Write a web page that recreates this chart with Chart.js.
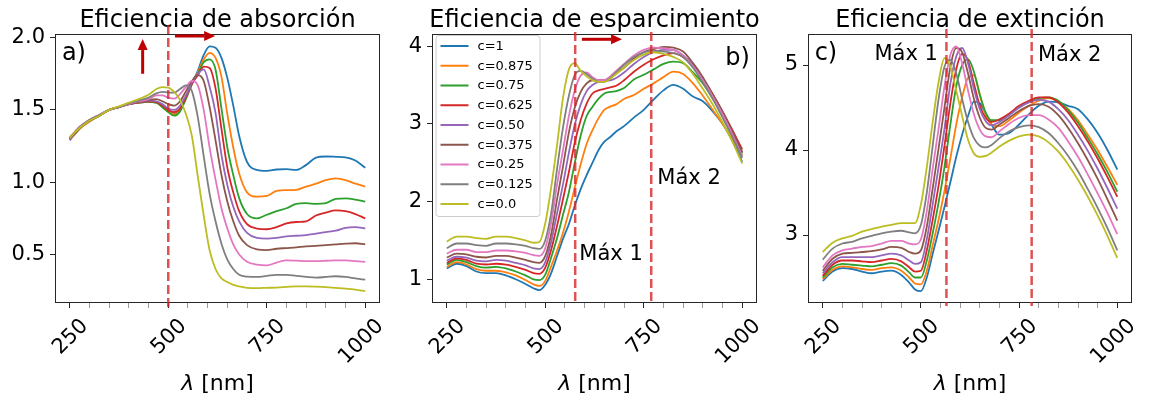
<!DOCTYPE html>
<html>
<head>
<meta charset="utf-8">
<script src="https://cdn.jsdelivr.net/npm/chart.js@4.4.1/dist/chart.umd.min.js"></script>
<style>
  html, body { margin: 0; padding: 0; background: #fff; }
  #wrap { position: relative; width: 1149px; height: 400px; overflow: hidden; }
  .panel { position: absolute; top: 0; height: 400px; }
</style>
</head>
<body>
<div id="wrap">
  <div class="panel" style="left:0;width:395px"><canvas id="cA"></canvas></div>
  <div class="panel" style="left:395px;width:375px"><canvas id="cB"></canvas></div>
  <div class="panel" style="left:770px;width:379px"><canvas id="cC"></canvas></div>
</div>
<script>
/* longitudes de onda compartidas por todas las curvas (nm) */
const WL = [250, 275, 300, 325, 350, 375, 400, 425, 450,
  470, 485, 500, 515, 530, 545, 560, 575, 590, 605, 620, 635, 650, 665, 680,
  700, 725, 750, 775, 800, 825, 850, 875, 900, 925, 950, 975, 1000];

const C_LABELS = ['c=1', 'c=0.875', 'c=0.75', 'c=0.625', 'c=0.50', 'c=0.375', 'c=0.25', 'c=0.125', 'c=0.0'];
const COLORS = ['#1f77b4', '#ff7f0e', '#2ca02c', '#d62728', '#9467bd', '#8c564b', '#e377c2', '#7f7f7f', '#bcbd22'];

const X_TICKS = [250, 300, 350, 400, 450, 500, 550, 600, 650, 700, 750, 800, 850, 900, 950, 1000];
const Y_TICKS_A = [0.5, 1.0, 1.5, 2.0];
const Y_TICKS_B = [1, 2, 3, 4];
const Y_TICKS_C = [3, 4, 5];

/* a) absorción */
const ABS_1    = [1.29,1.37,1.42,1.46,1.50,1.52,1.54,1.55,1.555, 1.55,1.52,1.49,1.475,1.50,1.58,1.68,1.77,1.88,1.94,1.93,1.86,1.72,1.53,1.32, 1.14,1.085,1.078,1.088,1.09,1.085,1.12,1.17,1.178,1.176,1.172,1.15,1.10];
const ABS_0875 = [1.295,1.37,1.42,1.46,1.50,1.52,1.54,1.55,1.555, 1.55,1.52,1.49,1.47,1.50,1.58,1.68,1.76,1.85,1.895,1.86,1.73,1.47,1.24,1.06, 0.93,0.90,0.905,0.94,0.945,0.947,0.97,0.99,1.015,1.027,1.015,0.99,0.97];
const ABS_075  = [1.30,1.375,1.425,1.46,1.50,1.52,1.54,1.55,1.555, 1.55,1.52,1.485,1.46,1.49,1.58,1.68,1.75,1.83,1.85,1.78,1.51,1.24,1.05,0.89, 0.78,0.75,0.775,0.80,0.82,0.85,0.855,0.85,0.855,0.885,0.888,0.88,0.866];
const ABS_0625 = [1.30,1.375,1.425,1.46,1.50,1.52,1.54,1.552,1.56, 1.555,1.53,1.50,1.485,1.51,1.59,1.68,1.74,1.80,1.79,1.65,1.37,1.10,0.93,0.80, 0.71,0.68,0.675,0.69,0.715,0.725,0.73,0.77,0.79,0.805,0.80,0.78,0.75];
const ABS_050  = [1.30,1.38,1.43,1.465,1.50,1.52,1.54,1.555,1.565, 1.56,1.54,1.51,1.50,1.53,1.60,1.69,1.75,1.78,1.66,1.48,1.19,0.98,0.83,0.73, 0.65,0.615,0.61,0.615,0.625,0.63,0.635,0.645,0.655,0.665,0.685,0.69,0.68];
const ABS_0375 = [1.305,1.38,1.43,1.465,1.50,1.52,1.54,1.558,1.57, 1.575,1.56,1.54,1.53,1.56,1.63,1.70,1.74,1.70,1.52,1.29,1.05,0.865,0.73,0.63, 0.565,0.535,0.53,0.54,0.545,0.55,0.557,0.56,0.565,0.57,0.575,0.578,0.57];
const ABS_025  = [1.305,1.385,1.43,1.465,1.50,1.52,1.542,1.56,1.575, 1.60,1.60,1.585,1.578,1.61,1.66,1.70,1.67,1.50,1.24,1.02,0.82,0.68,0.57,0.50, 0.45,0.43,0.425,0.445,0.46,0.458,0.455,0.455,0.457,0.46,0.46,0.455,0.449];
const ABS_0125 = [1.31,1.38,1.43,1.465,1.50,1.52,1.545,1.565,1.585, 1.615,1.625,1.62,1.62,1.645,1.67,1.63,1.45,1.18,0.92,0.73,0.575,0.465,0.40,0.36, 0.347,0.345,0.352,0.36,0.36,0.352,0.345,0.34,0.345,0.35,0.345,0.335,0.326];
const ABS_00   = [1.31,1.375,1.425,1.46,1.50,1.525,1.55,1.575,1.605, 1.645,1.658,1.655,1.625,1.57,1.47,1.32,1.04,0.77,0.53,0.40,0.335,0.31,0.29,0.28, 0.27,0.268,0.27,0.272,0.276,0.28,0.28,0.278,0.275,0.27,0.265,0.258,0.247];

/* b) esparcimiento */
const SCA_1    = [1.14,1.20,1.17,1.10,1.08,1.08,1.05,1.00,0.94, 0.885,0.86,0.93,1.08,1.30,1.52,1.71,1.95,2.16,2.34,2.50,2.66,2.77,2.83,2.90, 2.97,3.08,3.18,3.31,3.43,3.50,3.45,3.35,3.29,3.16,3.00,2.78,2.51];
const SCA_0875 = [1.16,1.22,1.19,1.13,1.11,1.11,1.09,1.05,0.99, 0.935,0.915,0.98,1.17,1.37,1.60,1.87,2.18,2.48,2.74,2.92,3.07,3.18,3.22,3.25, 3.32,3.37,3.45,3.52,3.60,3.67,3.64,3.52,3.36,3.18,3.00,2.80,2.60];
const SCA_075  = [1.19,1.25,1.22,1.17,1.15,1.16,1.14,1.10,1.05, 1.00,0.99,1.06,1.28,1.53,1.83,2.12,2.50,2.85,3.10,3.22,3.32,3.39,3.41,3.42, 3.46,3.57,3.63,3.70,3.77,3.80,3.78,3.66,3.52,3.33,3.12,2.88,2.62];
const SCA_0625 = [1.21,1.27,1.25,1.20,1.19,1.20,1.19,1.16,1.12, 1.08,1.07,1.15,1.38,1.69,2.03,2.38,2.76,3.05,3.26,3.39,3.43,3.45,3.47,3.49, 3.56,3.67,3.76,3.83,3.88,3.91,3.86,3.76,3.58,3.38,3.16,2.92,2.67];
const SCA_050  = [1.24,1.29,1.28,1.24,1.23,1.25,1.24,1.21,1.18, 1.14,1.13,1.22,1.48,1.85,2.22,2.63,2.99,3.25,3.42,3.50,3.54,3.55,3.56,3.59, 3.66,3.77,3.86,3.92,3.95,3.95,3.88,3.76,3.58,3.37,3.15,2.90,2.63];
const SCA_0375 = [1.28,1.33,1.32,1.29,1.28,1.30,1.30,1.28,1.25, 1.22,1.21,1.30,1.58,2.03,2.45,2.89,3.21,3.41,3.52,3.56,3.56,3.56,3.60,3.65, 3.72,3.84,3.92,3.96,3.99,3.98,3.93,3.78,3.60,3.38,3.15,2.90,2.64];
const SCA_025  = [1.33,1.38,1.38,1.35,1.35,1.37,1.37,1.36,1.34, 1.31,1.30,1.40,1.73,2.22,2.66,3.10,3.43,3.62,3.66,3.60,3.56,3.56,3.61,3.68, 3.77,3.88,3.95,3.98,3.97,3.95,3.88,3.74,3.56,3.35,3.12,2.86,2.58];
const SCA_0125 = [1.40,1.46,1.46,1.44,1.43,1.46,1.46,1.45,1.43, 1.40,1.39,1.50,1.85,2.42,2.95,3.36,3.63,3.68,3.64,3.58,3.54,3.54,3.59,3.66, 3.76,3.86,3.92,3.94,3.93,3.91,3.86,3.72,3.53,3.32,3.08,2.83,2.56];
const SCA_00   = [1.485,1.55,1.55,1.53,1.52,1.55,1.55,1.53,1.50, 1.47,1.48,1.72,2.18,2.73,3.33,3.70,3.78,3.68,3.61,3.56,3.54,3.54,3.58,3.64, 3.72,3.82,3.89,3.92,3.90,3.86,3.79,3.64,3.45,3.25,3.02,2.77,2.49];

/* c) extinción */
const EXT_1    = [2.46,2.57,2.61,2.60,2.57,2.55,2.57,2.58,2.53, 2.44,2.36,2.34,2.50,2.78,3.05,3.33,3.62,3.92,4.18,4.40,4.57,4.55,4.43,4.30, 4.18,4.20,4.30,4.42,4.52,4.57,4.56,4.52,4.48,4.36,4.20,4.00,3.77];
const EXT_0875 = [2.48,2.59,2.63,2.62,2.60,2.59,2.61,2.62,2.58, 2.50,2.43,2.42,2.58,2.88,3.18,3.52,3.90,4.30,4.62,4.85,4.88,4.65,4.42,4.30, 4.28,4.35,4.44,4.52,4.58,4.61,4.57,4.48,4.35,4.18,4.00,3.80,3.59];
const EXT_075  = [2.50,2.62,2.66,2.65,2.64,2.63,2.65,2.67,2.64, 2.56,2.50,2.50,2.70,3.02,3.38,3.80,4.30,4.75,5.00,5.07,4.92,4.65,4.44,4.35, 4.35,4.42,4.50,4.57,4.61,4.62,4.58,4.47,4.32,4.14,3.95,3.74,3.51];
const EXT_0625 = [2.52,2.65,2.70,2.70,2.69,2.68,2.70,2.72,2.69, 2.62,2.57,2.58,2.82,3.18,3.58,4.05,4.55,4.95,5.13,5.05,4.78,4.52,4.38,4.33, 4.36,4.43,4.52,4.58,4.62,4.62,4.56,4.44,4.28,4.10,3.90,3.68,3.45];
const EXT_050  = [2.55,2.68,2.74,2.74,2.74,2.74,2.76,2.78,2.76, 2.70,2.66,2.68,2.95,3.36,3.80,4.25,4.78,5.10,5.20,5.02,4.72,4.48,4.34,4.29, 4.33,4.41,4.50,4.56,4.59,4.57,4.48,4.35,4.18,3.99,3.78,3.55,3.31];
const EXT_0375 = [2.58,2.72,2.78,2.79,2.80,2.81,2.83,2.86,2.85, 2.80,2.78,2.82,3.10,3.55,4.02,4.50,4.98,5.20,5.15,4.90,4.60,4.38,4.26,4.24, 4.30,4.38,4.46,4.52,4.54,4.51,4.41,4.26,4.08,3.88,3.66,3.42,3.17];
const EXT_025  = [2.62,2.76,2.82,2.84,2.86,2.87,2.90,2.93,2.93, 2.90,2.89,2.95,3.28,3.78,4.25,4.75,5.12,5.22,5.02,4.70,4.42,4.24,4.16,4.15, 4.22,4.31,4.38,4.41,4.41,4.36,4.26,4.10,3.92,3.71,3.49,3.26,3.01];
const EXT_0125 = [2.71,2.84,2.90,2.92,2.96,2.99,3.02,3.04,3.05, 3.03,3.02,3.12,3.50,4.05,4.60,4.98,5.06,4.90,4.60,4.33,4.14,4.05,4.03,4.06, 4.14,4.22,4.27,4.29,4.27,4.20,4.08,3.93,3.75,3.54,3.32,3.08,2.82];
const EXT_00   = [2.80,2.91,2.96,2.99,3.04,3.07,3.10,3.12,3.14, 3.14,3.14,3.36,3.80,4.33,4.80,5.08,4.98,4.70,4.40,4.12,3.96,3.92,3.93,3.97, 4.04,4.11,4.16,4.18,4.16,4.09,3.98,3.83,3.65,3.45,3.23,2.99,2.73];

/* líneas de máximos (nm) */
const MAX_A = [500];
const MAX_B = [576, 769];
const MAX_C = [565, 782];

const FONT = "'DejaVu Sans', sans-serif";
Chart.defaults.font.family = FONT;
Chart.defaults.color = '#000';

/* flecha: trazo + punta triangular, en píxeles */
function drawArrow(ctx, x0, y0, x1, y1, w, hl, hw) {
  const ang = Math.atan2(y1 - y0, x1 - x0);
  const bx = x1 - hl * Math.cos(ang), by = y1 - hl * Math.sin(ang);
  ctx.lineWidth = w;
  ctx.beginPath(); ctx.moveTo(x0, y0); ctx.lineTo(bx, by); ctx.stroke();
  ctx.beginPath();
  ctx.moveTo(x1, y1);
  ctx.lineTo(bx + hw / 2 * Math.sin(ang), by - hw / 2 * Math.cos(ang));
  ctx.lineTo(bx - hw / 2 * Math.sin(ang), by + hw / 2 * Math.cos(ang));
  ctx.closePath(); ctx.fill();
}

/* marco, título, etiqueta λ, líneas de máximo, flechas, textos y leyenda */
const decorPlugin = {
  id: 'decor',
  afterDraw(chart, args, o) {
    const { ctx, chartArea: a, scales: { x, y } } = chart;
    ctx.save();

    // marco de los ejes
    ctx.strokeStyle = '#262626';
    ctx.lineWidth = 1;
    ctx.strokeRect(Math.round(a.left) + 0.5, Math.round(a.top) + 0.5, Math.round(a.width) - 1, Math.round(a.height) - 1);

    const cx = (a.left + a.right) / 2;
    ctx.fillStyle = '#000';
    ctx.textBaseline = 'alphabetic';

    // título
    ctx.font = '24px ' + FONT;
    ctx.textAlign = 'center';
    ctx.fillText(o.title, cx, 27);

    // etiqueta eje x: λ en cursiva + " [nm]"
    const fI = 'italic 22px ' + FONT, fR = '22px ' + FONT;
    ctx.font = fI; const w1 = ctx.measureText('λ').width;
    ctx.font = fR; const w2 = ctx.measureText(' [nm]').width;
    ctx.textAlign = 'left';
    ctx.font = fI; ctx.fillText('λ', cx - (w1 + w2) / 2, 390);
    ctx.font = fR; ctx.fillText(' [nm]', cx - (w1 + w2) / 2 + w1, 390);

    // líneas verticales discontinuas
    ctx.strokeStyle = 'rgba(214,39,40,0.8)';
    ctx.lineWidth = 2.5;
    ctx.setLineDash([9, 4]);
    o.vlines.forEach(v => {
      const px = x.getPixelForValue(v);
      ctx.beginPath();
      ctx.moveTo(px, a.top - o.vExt[0]);
      ctx.lineTo(px, a.bottom + o.vExt[1]);
      ctx.stroke();
    });
    ctx.setLineDash([]);

    // flechas
    ctx.strokeStyle = '#c00000';
    ctx.fillStyle = '#c00000';
    (o.arrows || []).forEach(ar => {
      drawArrow(ctx, x.getPixelForValue(ar[0]), y.getPixelForValue(ar[1]),
        x.getPixelForValue(ar[2]), y.getPixelForValue(ar[3]), 3, 11, 10);
    });

    // textos
    ctx.fillStyle = '#000';
    ctx.textAlign = 'left';
    (o.texts || []).forEach(t => {
      ctx.font = t.size + 'px ' + FONT;
      ctx.fillText(t.text, x.getPixelForValue(t.x), y.getPixelForValue(t.y));
    });

    // leyenda dentro del área
    if (o.legend) {
      const L = o.legend;
      const lx = a.left + L.dx, ly = a.top + L.dy;
      ctx.fillStyle = 'rgba(255,255,255,0.8)';
      ctx.strokeStyle = '#cccccc';
      ctx.lineWidth = 1;
      ctx.beginPath();
      ctx.roundRect(lx + 0.5, ly + 0.5, L.w, L.h, 3);
      ctx.fill(); ctx.stroke();
      ctx.font = '13px ' + FONT;
      ctx.textBaseline = 'middle';
      chart.data.datasets.forEach((ds, i) => {
        const ry = ly + 11 + i * L.row;
        ctx.strokeStyle = ds.borderColor;
        ctx.lineWidth = 2;
        ctx.beginPath(); ctx.moveTo(lx + 5, ry); ctx.lineTo(lx + 33, ry); ctx.stroke();
        ctx.fillStyle = '#000';
        ctx.fillText(ds.label, lx + 42, ry + 0.5);
      });
    }
    ctx.restore();
  },
};

function makeDatasets(series) {
  return series.map((vals, i) => ({
    label: C_LABELS[i],
    data: vals.map((v, j) => ({ x: WL[j], y: v })),
    borderColor: COLORS[i],
    borderWidth: 1.8,
    pointRadius: 0,
    fill: false,
    cubicInterpolationMode: 'monotone',
    order: series.length - 1 - i,
  }));
}

function makePanel(id, p) {
  return new Chart(document.getElementById(id), {
    type: 'line',
    plugins: [decorPlugin],
    data: { datasets: makeDatasets(p.series) },
    options: {
      responsive: true,
      maintainAspectRatio: false,
      animation: false,
      devicePixelRatio: 1,
      layout: { autoPadding: false, padding: { top: 34, right: p.padRight, left: 0, bottom: 0 } },
      scales: {
        x: {
          type: 'linear',
          min: 212.5, max: 1037.5,
          afterBuildTicks: s => { s.ticks = X_TICKS.map(v => ({ value: v })); },
          afterFit: s => { s.height = 97; s.paddingLeft = 0; s.paddingRight = 0; },
          ticks: {
            autoSkip: false, minRotation: 45, maxRotation: 45,
            labelOffset: 15, padding: 6,
            font: { size: 21 }, color: '#000',
            callback: v => (v % 250 === 0 ? String(v) : ''),
          },
          grid: {
            drawOnChartArea: false, tickLength: 5,
            tickColor: c => (c.tick && c.tick.value % 250 === 0 ? '#262626' : '#9a9a9a'),
          },
          border: { display: false },
        },
        y: {
          min: p.yMin, max: p.yMax,
          afterBuildTicks: s => { s.ticks = p.yTicks.map(v => ({ value: v })); },
          afterFit: s => { s.width = p.yWidth; s.paddingTop = 0; s.paddingBottom = 0; },
          ticks: { font: { size: 21 }, color: '#000', padding: 5, callback: p.yFmt },
          grid: { drawOnChartArea: false, tickLength: 5, tickColor: '#262626' },
          border: { display: false },
        },
      },
      plugins: {
        legend: { display: false },
        tooltip: { enabled: false },
        decor: p.decor,
      },
    },
  });
}

makePanel('cA', {
  series: [ABS_1, ABS_0875, ABS_075, ABS_0625, ABS_050, ABS_0375, ABS_025, ABS_0125, ABS_00],
  yMin: 0.165, yMax: 2.025, yTicks: Y_TICKS_A, yFmt: v => v.toFixed(1),
  yWidth: 55, padRight: 15,
  decor: {
    title: 'Eficiencia de absorción',
    vlines: MAX_A, vExt: [9, 4],
    arrows: [[435, 1.75, 435, 1.99], [517, 2.011, 619, 2.011]],
    texts: [{ text: 'a)', x: 230, y: 1.845, size: 24 }],
  },
});

makePanel('cB', {
  series: [SCA_1, SCA_0875, SCA_075, SCA_0625, SCA_050, SCA_0375, SCA_025, SCA_0125, SCA_00],
  yMin: 0.695, yMax: 4.155, yTicks: Y_TICKS_B, yFmt: v => String(v),
  yWidth: 37, padRight: 13,
  decor: {
    title: 'Eficiencia de esparcimiento',
    vlines: MAX_B, vExt: [2, 2],
    arrows: [[593, 4.087, 695, 4.087]],
    texts: [
      { text: 'b)', x: 957, y: 3.756, size: 24 },
      { text: 'Máx 1', x: 586.5, y: 1.25, size: 21 },
      { text: 'Máx 2', x: 784.5, y: 2.229, size: 21 },
    ],
    legend: { dx: 3.5, dy: 1, w: 104, h: 181, row: 19.75 },
  },
});

makePanel('cC', {
  series: [EXT_1, EXT_0875, EXT_075, EXT_0625, EXT_050, EXT_0375, EXT_025, EXT_0125, EXT_00],
  yMin: 2.2, yMax: 5.365, yTicks: Y_TICKS_C, yFmt: v => String(v),
  yWidth: 38, padRight: 17,
  decor: {
    title: 'Eficiencia de extinción',
    vlines: MAX_C, vExt: [5, 3],
    texts: [
      { text: 'c)', x: 229.5, y: 5.059, size: 24 },
      { text: 'Máx 1', x: 381.8, y: 5.059, size: 21 },
      { text: 'Máx 2', x: 798, y: 5.047, size: 21 },
    ],
  },
});
</script>
</body>
</html>
